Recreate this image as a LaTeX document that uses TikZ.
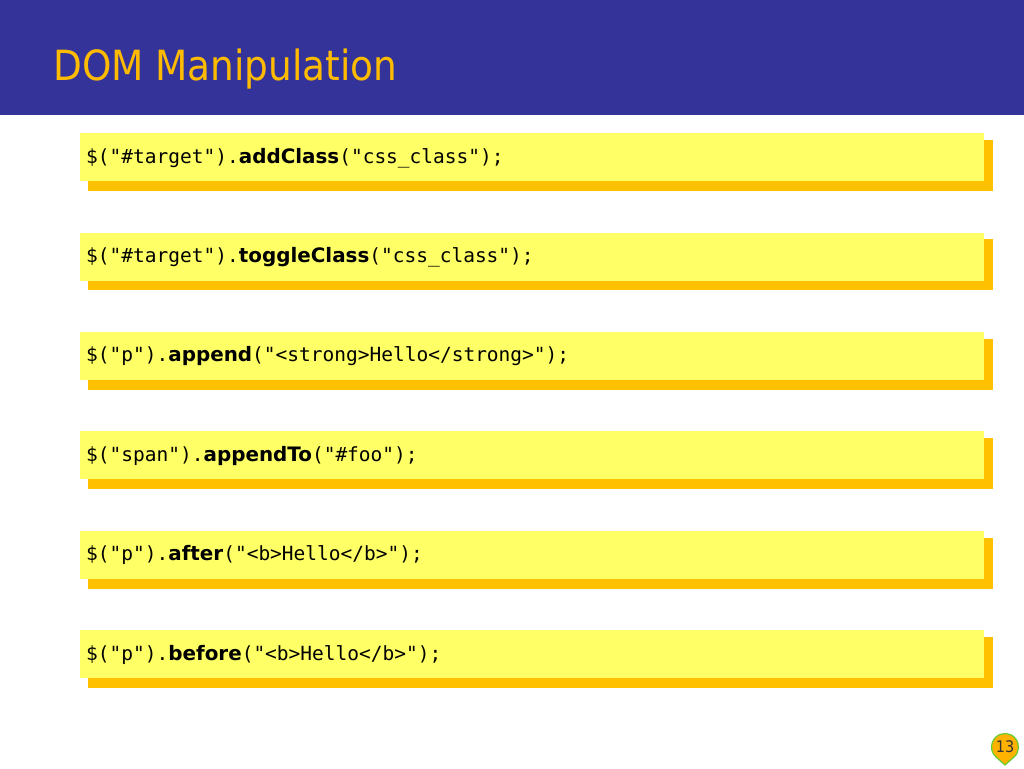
\documentclass[tikz,border=0pt]{standalone}
\usepackage{fontspec}
\usetikzlibrary{calc}
\setmainfont{DejaVu Sans}
\newfontfamily\titlefont{DejaVu Sans Condensed}
\newfontfamily\codefont{DejaVu Sans Mono}
\newfontfamily\methfont{DejaVu Sans}
\definecolor{hdrblue}{HTML}{333399}
\definecolor{titlec}{HTML}{FFBB00}
\definecolor{boxc}{HTML}{FFFF66}
\definecolor{shadc}{HTML}{FFC000}
\definecolor{tipc}{HTML}{FFB300}
\definecolor{tipb}{HTML}{66CC33}
\newcommand{\mkcode}[3]{\raisebox{-6pt}[0pt][0pt]{{\codefont\fontsize{19.5}{24}\selectfont #1}{\methfont\bfseries\fontsize{19.9}{24}\selectfont #2}{\codefont\fontsize{19.5}{24}\selectfont #3}}}
\begin{document}
\begin{tikzpicture}[x=1pt,y=1pt,
  codebox/.style={draw=none, fill=boxc, rectangle, anchor=north west,
    minimum width=904pt, minimum height=48pt, inner xsep=6pt, inner ysep=0pt,
    text width=892pt, align=left, font=\fontsize{19.5}{24}\selectfont}]
\useasboundingbox (0,0) rectangle (1024,768);
\fill[white] (0,0) rectangle (1024,768);
\fill[hdrblue] (0,653) rectangle (1024,768);
\node[anchor=base west, inner sep=0, text=titlec, font=\titlefont\fontsize{41.6}{50}\selectfont] (title) at (53,687) {DOM Manipulation};
\foreach \i/\yy in {1/133,2/232.4,3/331.8,4/431.2,5/530.6,6/630}{
  \fill[shadc] (88,768-\yy-7) rectangle (993,768-\yy-58);
}
\node[codebox] (b1) at (80,768-133) {\mkcode{\$("\#target").}{addClass}{("css\_class");}};
\node[codebox] (b2) at (80,768-232.4) {\mkcode{\$("\#target").}{toggleClass}{("css\_class");}};
\node[codebox] (b3) at (80,768-331.8) {\mkcode{\$("p").}{append}{("<strong>Hello</strong>");}};
\node[codebox] (b4) at (80,768-431.2) {\mkcode{\$("span").}{appendTo}{("\#foo");}};
\node[codebox] (b5) at (80,768-530.6) {\mkcode{\$("p").}{after}{("<b>Hello</b>");}};
\node[codebox] (b6) at (80,768-630) {\mkcode{\$("p").}{before}{("<b>Hello</b>");}};
\filldraw[fill=tipc, draw=tipb, line width=1.2pt] (1005,3) -- ($(1005,21)+(-48.6:13.5)$) arc[start angle=-48.6, end angle=228.6, radius=13.5] -- cycle;
\node[inner sep=0, text=black!80, font=\titlefont\fontsize{16}{18}\selectfont] (pg) at (1005,21) {13};
\end{tikzpicture}
\end{document}
